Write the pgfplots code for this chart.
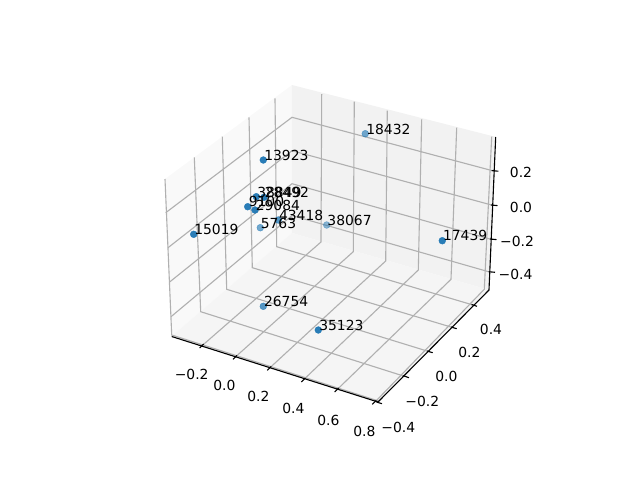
\documentclass[border=0pt]{standalone}
\usepackage{pgfplots}
\usepackage{fontspec}
\setmainfont{DejaVu Sans}
\pgfplotsset{compat=1.18}
\definecolor{paneL}{HTML}{F9F9F9}
\definecolor{paneR}{HTML}{F2F2F2}
\definecolor{paneF}{HTML}{F5F5F5}
\definecolor{gridc}{HTML}{B0B0B0}
\definecolor{dotc}{HTML}{1F77B4}
\begin{document}
\begin{tikzpicture}
\useasboundingbox (0,0) rectangle (6.4in,4.8in);
\begin{axis}[
  at={(0,0)}, anchor=south west,
  scale only axis, width=6.4in, height=4.8in,
  xmin=0, xmax=640, ymin=0, ymax=480, y dir=reverse,
  hide axis, clip=false, unbounded coords=jump,
  point meta=explicit symbolic,
  gridline/.style={gridc, line width=0.8bp, mark=none, forget plot},
  axline/.style={black, line width=0.8bp, mark=none, forget plot},
  pane/.style={draw=none, mark=none, forget plot},
  dots/.style={color=dotc, only marks, mark=*, mark size=2.45bp, mark options={color=dotc, draw opacity=#1, fill opacity=#1, line width=0.3bp}, forget plot},
  txt/.style={only marks, mark=none, forget plot, nodes near coords, nodes near coords style={anchor=base west, inner sep=0pt, font=\fontsize{10bp}{12bp}\selectfont, text=black}},
  tlab/.style={only marks, mark=none, forget plot, nodes near coords, nodes near coords style={anchor=center, inner sep=0pt, font=\fontsize{10bp}{12bp}\selectfont, text=black}},
]
% panes
\addplot[pane, fill=paneL] coordinates {(165,179) (292,85) (292,233) (172,336)} --cycle;
\addplot[pane, fill=paneR] coordinates {(292,85) (496,137) (489,290) (292,233)} --cycle;
\addplot[pane, fill=paneF] coordinates {(172,336) (292,233) (489,290) (377,402)} --cycle;
% grid: x ticks (right wall and floor)
\addplot[gridline] coordinates {
 (321.7,94) (321,242) (201.7,346) (nan,nan)
 (354.3,101.7) (353.3,251.7) (235,357.3) (nan,nan)
 (387.3,110.7) (385.7,261) (269.3,368.3) (nan,nan)
 (421.7,119.3) (418.3,270) (303.3,380) (nan,nan)
 (456.7,127.7) (451,279.3) (336.7,390) (nan,nan)
 (491.7,136.7) (484.3,289.3) (375,402)};
% grid: y ticks (left wall and floor)
\addplot[gridline] coordinates {
 (165,179) (171.7,335) (378.5,401) (nan,nan)
 (194.3,157.3) (200.7,311.7) (405.7,376.7) (nan,nan)
 (222.3,136.7) (226.7,289.3) (429.3,351.7) (nan,nan)
 (249,117.3) (252.3,267.7) (453.3,327.7) (nan,nan)
 (275,98.3) (276.7,246.7) (474,305.3)};
% grid: z ticks (walls)
\addplot[gridline] coordinates {
 (165.7,212.7) (292,117.3) (492.5,170.7) (nan,nan)
 (168,247.7) (292,150.7) (491.5,205) (nan,nan)
 (170,281.7) (292,183.7) (490,239) (nan,nan)
 (171,316.7) (292,215.5) (488.5,271.7)};
% axis lines
\addplot[axline] coordinates {(495.7,137) (489,290) (378,402) (171.7,336.5)};
% tick marks
\addplot[axline] coordinates {
 (199.7,348) (203.7,344) (nan,nan)
 (233,359.3) (237,355.3) (nan,nan)
 (267.3,370.3) (271.3,366.3) (nan,nan)
 (301.3,382) (305.3,378) (nan,nan)
 (334.7,392) (338.7,388) (nan,nan)
 (372.3,404.3) (376.3,400.3) (nan,nan)
 (376.5,402) (382,403.7) (nan,nan)
 (403.3,375.7) (409,377.7) (nan,nan)
 (427,351) (432.7,352.7) (nan,nan)
 (451,327) (456.7,328.7) (nan,nan)
 (471.5,304.5) (477,306.3) (nan,nan)
 (491.7,170.6) (498.3,171.2) (nan,nan)
 (491,205) (497.5,205.6) (nan,nan)
 (490,239) (496.5,239.6) (nan,nan)
 (488.7,271.7) (495,272.3)};
% tick labels
\addplot[tlab] coordinates {
 (191.7,374.3) [−0.2] (224.3,385.7) [0.0] (258.3,396.7) [0.2]
 (293.3,408.3) [0.4] (328.3,420) [0.6] (364.3,431.7) [0.8]
 (491,329.3) [0.4] (469.3,352.3) [0.2] (446.3,376.3) [0.0]
 (422.3,401) [−0.2] (398.3,427.3) [−0.4]
 (521,172) [0.2] (521,207) [0.0] (517,241) [−0.2] (515.5,274) [−0.4]};
% points, grouped by depth shade
\addplot[dots=0.95] coordinates {(263.3,160) (193.7,234.3) (318.3,330) (442.3,240.7) (247.7,206.7) (255,210) (256.3,196.7) (264,197.3)};
\addplot[dots=0.75] coordinates {(263.3,306.3) (278.3,220)};
\addplot[dots=0.62] coordinates {(365.3,133.7) (260.3,227.7)};
\addplot[dots=0.5] coordinates {(326.7,225)};
% labels
\addplot[txt] coordinates {
 (264,160) [13923] (366,134) [18432] (194,234.3) [15019]
 (260.5,228) [5763] (263.8,306.3) [26754] (319,330) [35123]
 (442.8,240.7) [17439] (327.2,225) [38067] (278.8,220) [43418]
 (248.5,206.7) [9100] (255.5,210) [29084]
 (257,197) [38849] (264.5,197) [28492]};
\end{axis}
\end{tikzpicture}
\end{document}
